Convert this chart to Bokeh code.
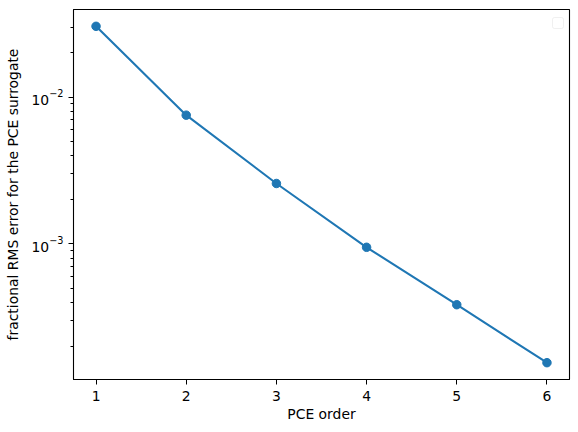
import numpy as np
from bokeh.plotting import figure
from bokeh.models import Range1d, FixedTicker, BoxAnnotation
from bokeh.embed import file_html
from bokeh.resources import INLINE

pce_order = [1, 2, 3, 4, 5, 6]
rms_error = [0.0304, 0.00754, 0.00258, 0.000948, 0.000385, 0.000155]

x_label = "PCE order"
y_label = "fractional RMS error for the PCE surrogate"
color = "#1f77b4"

y_major = [1e-3, 1e-2]
y_minor = [m * d for d in [1e-4, 1e-3, 1e-2] for m in range(2, 10)]

# matplotlib-like 5% margins
xmin, xmax = min(pce_order), max(pce_order)
xr = xmax - xmin
lmin, lmax = np.log10(min(rms_error)), np.log10(max(rms_error))
lr = lmax - lmin

p = figure(width=578, height=432, y_axis_type="log",
           x_range=Range1d(xmin - 0.05 * xr, xmax + 0.05 * xr),
           y_range=Range1d(10 ** (lmin - 0.05 * lr), 10 ** (lmax + 0.05 * lr)),
           output_backend="svg", toolbar_location=None,
           min_border_left=73, min_border_top=9, min_border_right=9, min_border_bottom=53)

p.line(pce_order, rms_error, line_color=color, line_width=2.1)
p.scatter(pce_order, rms_error, size=8.5, fill_color=color, line_color=color)

p.xgrid.visible = False
p.ygrid.visible = False
p.outline_line_color = "black"
p.outline_line_width = 1.1
p.background_fill_color = "white"
p.border_fill_color = "white"

p.xaxis.ticker = FixedTicker(ticks=pce_order)
p.yaxis.ticker = FixedTicker(ticks=y_major, minor_ticks=y_minor)
p.xaxis.axis_label = x_label
p.yaxis.axis_label = y_label

for ax in (p.xaxis, p.yaxis):
    ax.axis_line_color = "black"
    ax.major_tick_in = 0
    ax.major_tick_out = 5
    ax.minor_tick_in = 0
    ax.minor_tick_out = 3
    ax.major_tick_line_color = "black"
    ax.minor_tick_line_color = "black"
    ax.major_label_text_font = "DejaVu Sans"
    ax.major_label_text_font_size = "13.9px"
    ax.major_label_text_color = "black"
    ax.axis_label_text_font = "DejaVu Sans"
    ax.axis_label_text_font_size = "13.9px"
    ax.axis_label_text_font_style = "normal"
    ax.axis_label_text_color = "black"

p.xaxis.major_label_standoff = 6
p.xaxis.axis_label_standoff = 2
p.yaxis.major_label_standoff = 5
p.yaxis.axis_label_standoff = 7
p.xaxis.minor_tick_line_color = None

# empty legend box in the upper right corner
legend_box = BoxAnnotation(left=479, right=490, top=362, bottom=351,
                           left_units="screen", right_units="screen",
                           top_units="screen", bottom_units="screen",
                           fill_color="white", fill_alpha=0.8,
                           line_color="#cccccc", line_width=1, border_radius=2)
p.add_layout(legend_box)

open("out.html", "w").write(file_html(p, INLINE))
